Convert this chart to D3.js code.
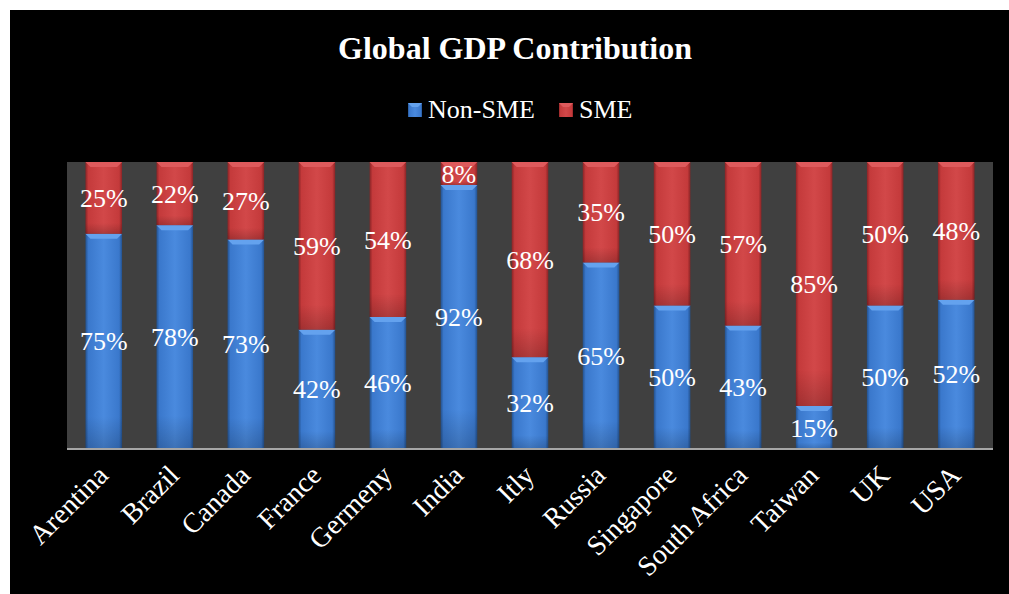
<!DOCTYPE html>
<html>
<head>
<meta charset="utf-8">
<script src="https://cdn.jsdelivr.net/npm/d3@7"></script>
<style>
  body { margin: 0; background: #ffffff; }
  svg { display: block; }
</style>
</head>
<body>
<svg id="chart"></svg>
<script>
// values
var countries = ["Arentina", "Brazil", "Canada", "France", "Germeny", "India", "Itly",
                 "Russia", "Singapore", "South Africa", "Taiwan", "UK", "USA"]
var nonSME = [75, 78, 73, 42, 46, 92, 32, 65, 50, 43, 15, 50, 52]
var sme    = [25, 22, 27, 59, 54, 8, 68, 35, 50, 57, 85, 50, 48]
var seriesNames = ["Non-SME", "SME"]

var dimensions = {
    width: 1009,
    height: 594,
    margin: { top: 162, bottom: 145, left: 67, right: 16 }
}

var svg = d3.select("#chart")
            .attr("width", dimensions.width)
            .attr("height", dimensions.height)

// black chart area with the white strip on top / left
svg.append("rect")
   .attr("x", 10).attr("y", 10)
   .attr("width", dimensions.width - 10)
   .attr("height", dimensions.height - 10)
   .attr("fill", "#000")

var table = countries.map((c, i) => ({ country: c, "Non-SME": nonSME[i], "SME": sme[i] }))

var stacked = d3.stack()
                .keys(seriesNames)
                .offset(d3.stackOffsetExpand)(table)

var xScale = d3.scaleBand()
               .domain(countries)
               .range([dimensions.margin.left, dimensions.width - dimensions.margin.right])
               .paddingInner(0.485)
               .paddingOuter(0.26)

var yScale = d3.scaleLinear()
               .domain([0, 1])
               .range([dimensions.height - dimensions.margin.bottom, dimensions.margin.top])

// plot background
svg.append("rect")
   .attr("x", dimensions.margin.left)
   .attr("y", dimensions.margin.top)
   .attr("width", dimensions.width - dimensions.margin.right - dimensions.margin.left)
   .attr("height", dimensions.height - dimensions.margin.bottom - dimensions.margin.top)
   .attr("fill", "#404040")

// gradients for the bevelled look
var defs = svg.append("defs")
var palette = {
    "Non-SME": { edge: "#24528f", body: "#3a78cc", light: "#4a8ade", top: "#64a2ee" },
    "SME":     { edge: "#8a2426", body: "#c43a3b", light: "#d24849", top: "#de5a5c" }
}
seriesNames.forEach((s, k) => {
    var p = palette[s]
    var g = defs.append("linearGradient").attr("id", "grad" + k)
                .attr("x1", "0").attr("x2", "1").attr("y1", "0").attr("y2", "0")
    g.append("stop").attr("offset", "0%").attr("stop-color", p.edge)
    g.append("stop").attr("offset", "8%").attr("stop-color", p.body)
    g.append("stop").attr("offset", "50%").attr("stop-color", p.light)
    g.append("stop").attr("offset", "92%").attr("stop-color", p.body)
    g.append("stop").attr("offset", "100%").attr("stop-color", p.edge)
    var v = defs.append("linearGradient").attr("id", "vshade" + k)
                .attr("x1", "0").attr("x2", "0").attr("y1", "0").attr("y2", "1")
    v.append("stop").attr("offset", "0%").attr("stop-color", "#000").attr("stop-opacity", 0)
    v.append("stop").attr("offset", "85%").attr("stop-color", "#000").attr("stop-opacity", 0)
    v.append("stop").attr("offset", "100%").attr("stop-color", "#000").attr("stop-opacity", 0.18)
})

var bw = xScale.bandwidth()
var bevel = 5

var layers = svg.selectAll("g.layer")
                .data(stacked)
                .enter()
                .append("g")
                .attr("class", "layer")

layers.each(function(layer, k) {
    var g = d3.select(this)
    var p = palette[layer.key]
    g.selectAll("rect.seg")
     .data(layer)
     .enter()
     .append("rect")
     .attr("class", "seg")
     .attr("x", d => xScale(d.data.country))
     .attr("y", d => yScale(d[1]))
     .attr("width", bw)
     .attr("height", d => yScale(d[0]) - yScale(d[1]))
     .attr("fill", "url(#grad" + k + ")")
    g.selectAll("rect.shade")
     .data(layer)
     .enter()
     .append("rect")
     .attr("class", "shade")
     .attr("x", d => xScale(d.data.country))
     .attr("y", d => yScale(d[1]))
     .attr("width", bw)
     .attr("height", d => yScale(d[0]) - yScale(d[1]))
     .attr("fill", "url(#vshade" + k + ")")
    g.selectAll("path.bevel")
     .data(layer)
     .enter()
     .append("path")
     .attr("class", "bevel")
     .attr("d", d => {
         var x0 = xScale(d.data.country), y0 = yScale(d[1])
         return `M${x0},${y0}L${x0 + bw},${y0}L${x0 + bw - bevel},${y0 + bevel}L${x0 + bevel},${y0 + bevel}Z`
     })
     .attr("fill", p.top)
})

// data labels
layers.each(function(layer, k) {
    var vals = k === 0 ? nonSME : sme
    d3.select(this).selectAll("text")
      .data(layer)
      .enter()
      .append("text")
      .attr("x", d => xScale(d.data.country) + bw / 2)
      .attr("y", d => (yScale(d[0]) + yScale(d[1])) / 2)
      .attr("dy", "0.35em")
      .attr("text-anchor", "middle")
      .attr("fill", "#fff")
      .style("font-family", "'Liberation Serif', 'Times New Roman', serif")
      .style("font-size", "26px")
      .text((d, i) => vals[i] + "%")
})

// x axis
var xAxisgen = d3.axisBottom(xScale).tickSize(0).tickPadding(0)
var xAxis = svg.append("g")
               .attr("transform", `translate(0,${dimensions.height - dimensions.margin.bottom})`)
               .call(xAxisgen)
xAxis.select(".domain").attr("stroke", "#a6a6a6").attr("stroke-width", 2)
     .attr("d", `M${dimensions.margin.left},0H${dimensions.width - dimensions.margin.right}`)
xAxis.selectAll("text")
     .attr("fill", "#fff")
     .attr("y", 0)
     .attr("dy", 0)
     .attr("text-anchor", "end")
     .attr("transform", "translate(6,28) rotate(-45)")
     .style("font-family", "'Liberation Serif', 'Times New Roman', serif")
     .style("font-size", "28px")

// title
svg.append("text")
   .attr("x", 515)
   .attr("y", 59)
   .attr("text-anchor", "middle")
   .attr("fill", "#fff")
   .style("font-family", "'Liberation Serif', 'Times New Roman', serif")
   .style("font-size", "32px")
   .style("font-weight", "bold")
   .text("Global GDP Contribution")

// legend
var legendX = [408, 559]
var legend = svg.selectAll("g.legend")
                .data(seriesNames)
                .enter()
                .append("g")
                .attr("class", "legend")
                .attr("transform", (d, i) => `translate(${legendX[i]},103)`)
legend.append("rect")
      .attr("width", 14).attr("height", 14)
      .attr("fill", (d, i) => "url(#grad" + i + ")")
legend.append("path")
      .attr("d", "M0,0L14,0L10,4L4,4Z")
      .attr("fill", d => palette[d].top)
legend.append("text")
      .attr("x", 20)
      .attr("y", 15)
      .attr("fill", "#fff")
      .style("font-family", "'Liberation Serif', 'Times New Roman', serif")
      .style("font-size", "26px")
      .text(d => d)
</script>
</body>
</html>
